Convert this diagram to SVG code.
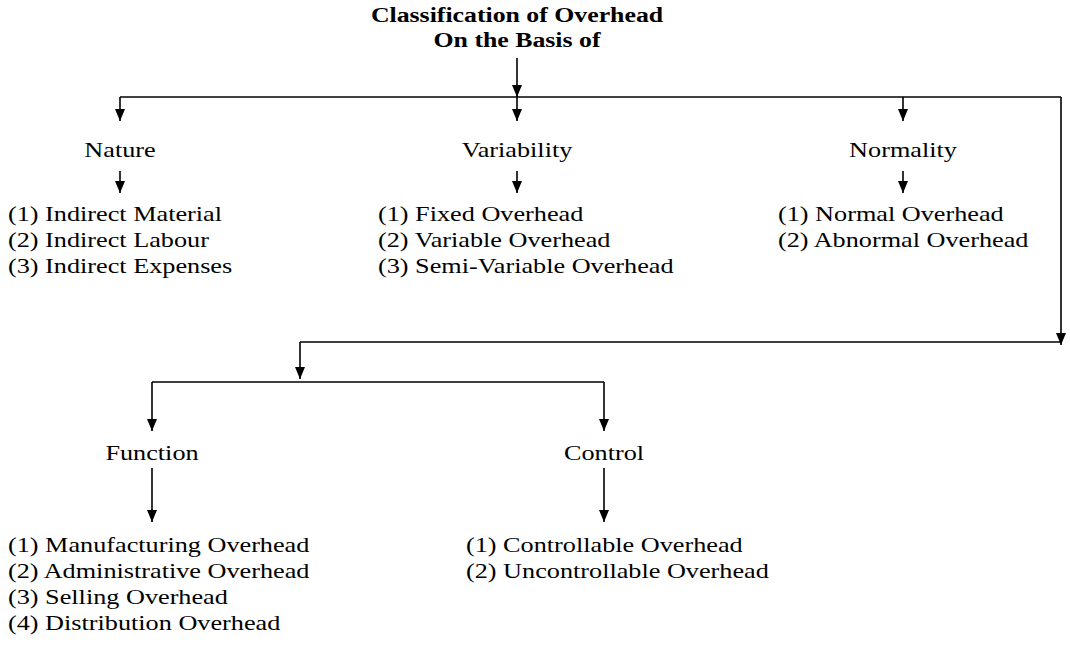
<svg xmlns="http://www.w3.org/2000/svg" width="1070" height="651" viewBox="0 0 1070 651">
  <style>
    text { font-family: "Liberation Serif", "Times New Roman", serif; font-size: 21.5px; fill: #000; }
    .title { font-weight: bold; text-anchor: middle; }
    .head { text-anchor: middle; }
    .conn { fill: none; stroke: #000; stroke-width: 1.6; }
    .arr { marker-end: url(#ah); }
  </style>
  <defs>
    <marker id="ah" viewBox="0 0 12 10" refX="12" refY="5" markerWidth="12" markerHeight="10" markerUnits="userSpaceOnUse" orient="auto">
      <path d="M0,0 L12,5 L0,10 z" fill="#000"/>
    </marker>
  </defs>
  <rect width="1070" height="651" fill="#fff"/>

  <!-- connectors -->
  <g id="connectors">
    <line class="conn arr" x1="517" y1="58" x2="517" y2="97"/>
    <line class="conn" x1="120" y1="97" x2="1061" y2="97"/>
    <line class="conn arr" x1="120" y1="97" x2="120" y2="121"/>
    <line class="conn arr" x1="517" y1="97" x2="517" y2="121"/>
    <line class="conn arr" x1="903" y1="97" x2="903" y2="121"/>
    <line class="conn arr" x1="120" y1="171" x2="120" y2="193"/>
    <line class="conn arr" x1="517" y1="171" x2="517" y2="193"/>
    <line class="conn arr" x1="903" y1="171" x2="903" y2="193"/>
    <line class="conn arr" x1="1061" y1="97" x2="1061" y2="345"/>
    <line class="conn" x1="1061" y1="342" x2="300" y2="342"/>
    <line class="conn arr" x1="300" y1="342" x2="300" y2="379"/>
    <line class="conn" x1="152" y1="382" x2="604" y2="382"/>
    <line class="conn arr" x1="152" y1="382" x2="152" y2="431"/>
    <line class="conn arr" x1="604" y1="382" x2="604" y2="431"/>
    <line class="conn arr" x1="152" y1="468" x2="152" y2="522"/>
    <line class="conn arr" x1="604" y1="468" x2="604" y2="522"/>
  </g>

  <!-- root -->
  <g id="root">
    <text class="title" transform="translate(517,22) scale(1.2,1)">Classification of Overhead</text>
    <text class="title" transform="translate(517,47) scale(1.2,1)">On the Basis of</text>
  </g>

  <!-- nature -->
  <g id="nature">
    <text class="head" transform="translate(120,157) scale(1.22,1)">Nature</text>
  </g>
  <g id="nature-items">
    <text transform="translate(8,221) scale(1.22,1)">(1) Indirect Material</text>
    <text transform="translate(8,247) scale(1.22,1)">(2) Indirect Labour</text>
    <text transform="translate(8,273) scale(1.22,1)">(3) Indirect Expenses</text>
  </g>

  <!-- variability -->
  <g id="variability">
    <text class="head" transform="translate(517,157) scale(1.22,1)">Variability</text>
  </g>
  <g id="variability-items">
    <text transform="translate(378,221) scale(1.22,1)">(1) Fixed Overhead</text>
    <text transform="translate(378,247) scale(1.22,1)">(2) Variable Overhead</text>
    <text transform="translate(378,273) scale(1.22,1)">(3) Semi-Variable Overhead</text>
  </g>

  <!-- normality -->
  <g id="normality">
    <text class="head" transform="translate(903,157) scale(1.22,1)">Normality</text>
  </g>
  <g id="normality-items">
    <text transform="translate(778,221) scale(1.22,1)">(1) Normal Overhead</text>
    <text transform="translate(778,247) scale(1.22,1)">(2) Abnormal Overhead</text>
  </g>

  <!-- function -->
  <g id="function">
    <text class="head" transform="translate(152,460) scale(1.22,1)">Function</text>
  </g>
  <g id="function-items">
    <text transform="translate(8,552) scale(1.22,1)">(1) Manufacturing Overhead</text>
    <text transform="translate(8,578) scale(1.22,1)">(2) Administrative Overhead</text>
    <text transform="translate(8,604) scale(1.22,1)">(3) Selling Overhead</text>
    <text transform="translate(8,630) scale(1.22,1)">(4) Distribution Overhead</text>
  </g>

  <!-- control -->
  <g id="control">
    <text class="head" transform="translate(604,460) scale(1.22,1)">Control</text>
  </g>
  <g id="control-items">
    <text transform="translate(466,552) scale(1.22,1)">(1) Controllable Overhead</text>
    <text transform="translate(466,578) scale(1.22,1)">(2) Uncontrollable Overhead</text>
  </g>
</svg>
